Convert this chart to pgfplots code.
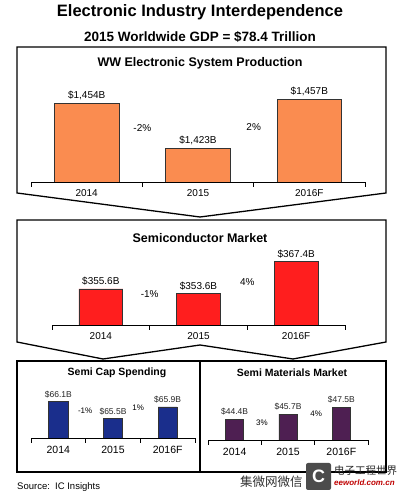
\documentclass[border=0pt]{standalone}
\usepackage{pgfplots}
\pgfplotsset{compat=1.18}
\usepackage{fontspec}
\setmainfont{Liberation Sans}
\newfontfamily\cjk{Noto Sans CJK SC}
\definecolor{orangebar}{HTML}{FA8C50}
\definecolor{redbar}{HTML}{FF1E1E}
\definecolor{navybar}{HTML}{1A2E8C}
\definecolor{purplebar}{HTML}{4E1F52}
\newcommand{\fs}[1]{\fontsize{#1bp}{#1bp}\selectfont}
\pgfplotsset{
  /pgf/number format/assume math mode=true,
  mybar/.style={
    scale only axis, anchor=south west,
    axis x line*=bottom, axis y line=none,
    xmin=-0.5, xmax=2.5,
    xtick={0,1,2}, xticklabels={2014,2015,2016F},
    major tick length=0pt,
    extra x ticks={-0.5,0.5,1.5,2.5}, extra x tick labels={},
    extra x tick style={major tick length=5bp, tick align=outside, tick style={black, line width=0.8pt}},
    axis line style={black, line width=0.9pt},
    ybar, clip mode=individual,
    nodes near coords,
  },
}
\begin{document}
\begin{tikzpicture}[x=1bp,y=1bp]
\fill[white] (0,0) rectangle (403,500);
\useasboundingbox (0,0) rectangle (403,500);
% titles
\node[font=\fs{16.5}\bfseries] at (200,488) {Electronic Industry Interdependence};
\node[font=\fs{13.5}\bfseries] at (200,463) {2015 Worldwide GDP = \$78.4 Trillion};
% frames
\draw[line width=1.3pt] (17,307) -- (17,453) -- (386,453) -- (386,307) -- (200,283) -- cycle;
\draw[line width=1.3pt] (17,280) -- (386,280) -- (386,158) -- (293,141) -- (200,155) -- (103,141) -- (17,158) -- cycle;
\draw[line width=1.8pt] (17,28) rectangle (386,139);
\draw[line width=1.8pt] (200,28) -- (200,139);

% chart 1
\node[font=\fs{12.5}\bfseries] at (200,437) {WW Electronic System Production};
\begin{axis}[mybar, at={(31bp,318bp)}, width=334bp, height=92bp,
  ymin=1400, ymax=1463.4, bar width=0.58,
  nodes near coords={\$\pgfmathprintnumber[1000 sep={,},fixed,precision=0]{\pgfplotspointmeta}B},
  every node near coord/.append style={font=\fs{10}, black},
  xticklabel style={font=\fs{10}, yshift=-4bp}]
\addplot[fill=orangebar, draw=black!80, line width=0.7pt] coordinates {(0,1454) (1,1423) (2,1457)};
\node[font=\fs{10}] at (axis cs:0.5,1437.2) {-2\%};
\node[font=\fs{10}] at (axis cs:1.5,1437.9) {2\%};
\end{axis}

% chart 2
\node[font=\fs{12.5}\bfseries] at (200,262) {Semiconductor Market};
\begin{axis}[mybar, at={(52bp,175bp)}, width=293bp, height=75bp,
  ymin=340, ymax=372.5, bar width=0.45,
  nodes near coords={\$\pgfmathprintnumber[fixed,fixed zerofill,precision=1]{\pgfplotspointmeta}B},
  every node near coord/.append style={font=\fs{10}, black},
  xticklabel style={font=\fs{10}, yshift=-4bp}]
\addplot[fill=redbar, draw=black!80, line width=0.7pt] coordinates {(0,355.6) (1,353.6) (2,367.4)};
\node[font=\fs{10}] at (axis cs:0.5,353.4) {-1\%};
\node[font=\fs{10}] at (axis cs:1.5,358.6) {4\%};
\end{axis}

% chart 3
\node[font=\fs{10.5}\bfseries] at (117,127) {Semi Cap Spending};
\begin{axis}[mybar, at={(31bp,62bp)}, width=164bp, height=50bp,
  ymin=64.8, ymax=66.57, bar width=0.35,
  nodes near coords={\$\pgfmathprintnumber[fixed,fixed zerofill,precision=1]{\pgfplotspointmeta}B},
  every node near coord/.append style={font=\fs{8.5}, black!85},
  xticklabel style={font=\fs{10.5}, yshift=-5bp}]
\addplot[fill=navybar, draw=black!80, line width=0.6pt] coordinates {(0,66.1) (1,65.5) (2,65.9)};
\node[font=\fs{8}] at (axis cs:0.49,65.75) {-1\%};
\node[font=\fs{8}] at (axis cs:1.46,65.86) {1\%};
\end{axis}

% chart 4
\node[font=\fs{10.5}\bfseries] at (292,127) {Semi Materials Market};
\begin{axis}[mybar, at={(208bp,60bp)}, width=160bp, height=50bp,
  ymin=39, ymax=51.9, bar width=0.34,
  nodes near coords={\$\pgfmathprintnumber[fixed,fixed zerofill,precision=1]{\pgfplotspointmeta}B},
  every node near coord/.append style={font=\fs{8.5}, black!85},
  xticklabel style={font=\fs{10.5}, yshift=-5bp}]
\addplot[fill=purplebar, draw=black!80, line width=0.6pt] coordinates {(0,44.4) (1,45.7) (2,47.5)};
\node[font=\fs{8}] at (axis cs:0.51,43.4) {3\%};
\node[font=\fs{8}] at (axis cs:1.53,45.7) {4\%};
\end{axis}

% source
\node[anchor=west, font=\fs{9.5}, inner sep=0pt] at (17,13) {Source:\ \ IC Insights};
% watermark
\node[font=\fs{12.5}\cjk, black!80, anchor=west, inner sep=0pt] at (240,18) {集微网微信};
\fill[black!70, rounded corners=2bp] (306,10) rectangle (331,37);
\node[font=\fs{18}\bfseries, white] at (318.5,23.5) {C};
\node[font=\fs{10.5}\cjk, black!85, anchor=west, inner sep=0pt] at (334,29) {电子工程世界};
\node[font=\fs{8}\bfseries\itshape, red!75!black, anchor=west, inner sep=0pt] at (334,17) {eeworld.com.cn};
\end{tikzpicture}
\end{document}
